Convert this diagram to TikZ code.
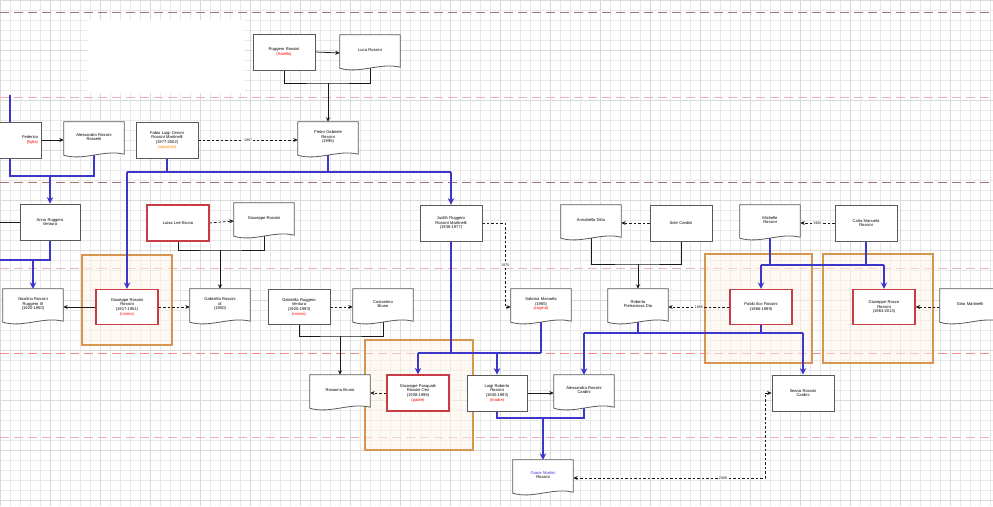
\documentclass[tikz,border=0pt]{standalone}
\usepackage{fontspec}
\setmainfont{Liberation Sans}
\usetikzlibrary{arrows.meta,calc}
\pgfdeclarelayer{bg}
\pgfdeclarelayer{lines}
\pgfsetlayers{bg,lines,main}
\definecolor{bl}{RGB}{60,55,200}
\definecolor{framec}{RGB}{215,150,80}
\definecolor{redb}{RGB}{200,60,70}
\definecolor{dashA}{RGB}{165,115,115}
\definecolor{dashB}{RGB}{240,175,180}
\tikzset{
 every node/.style={font=\fontsize{4.1}{4.7}\selectfont, align=center, inner sep=2pt},
 rbox/.style={draw=gray!70!black, fill=white, line width=0.8pt, minimum width=62pt, minimum height=36pt, text width=56pt},
 redbox/.style={rbox, draw=redb, line width=1.2pt},
 docshape/.style={minimum width=60pt, minimum height=36pt},
 doctext/.style={text width=55pt},
 docline/.style={draw=gray!70!black, fill=white, line width=0.8pt},
 thinl/.style={gray!20!black, line width=0.75pt},
 thinarrow/.style={thinl, -{Stealth[length=4.5pt,width=4pt]}},
 dasharrow/.style={thinarrow, dash pattern=on 2.5pt off 2pt},
 blueline/.style={bl, line width=2.8pt},
 bluearrow/.style={blueline, -{Stealth[length=6.5pt,width=6.5pt]}},
 framebox/.style={draw=framec, line width=1.2pt, fill=orange!8, fill opacity=0.5},
 lab/.style={fill=white, inner sep=0.6pt, font=\fontsize{3.6}{4}\selectfont},
 lane/.style={line width=0.9pt, dash pattern=on 9pt off 5pt}
}
\newcommand\docnode[3]{%
 \node[docshape] (#1) at (#2) {};
 \path[docline] (#1.north west) -- (#1.north east) -- ([yshift=4pt]#1.south east)
   .. controls ([xshift=-20pt,yshift=9pt]#1.south east) and ([xshift=20pt,yshift=-3pt]#1.south west) .. ([yshift=3pt]#1.south west) -- cycle;
 \coordinate (#1-b) at ([yshift=3pt]#1.south);
 \node[doctext] (#1-t) at ([yshift=3pt]#1.center) {#3};
}
\begin{document}
\begin{tikzpicture}[x=1pt,y=-1pt]
\useasboundingbox (0,0) rectangle (993,506);
\begin{pgfonlayer}{bg}
 \fill[white] (0,0) rectangle (993,506);
 \foreach \i in {0,10,...,990} \draw[gray!18,line width=0.4pt] (\i,0) -- (\i,506);
 \foreach \j in {0,10,...,500} \draw[gray!18,line width=0.4pt] (0,\j) -- (993,\j);
 \foreach \i in {0,50,...,950} \draw[gray!30,line width=0.5pt] (\i,0) -- (\i,506);
 \foreach \j in {0,50,...,500} \draw[gray!30,line width=0.5pt] (0,\j) -- (993,\j);
 \fill[white] (88,20) rectangle (245,93);
 \draw[lane,dashA] (0,12) -- (993,12);
 \draw[lane,dashB] (0,97) -- (993,97);
 \draw[lane,dashA] (0,182) -- (993,182);
 \draw[lane,dashB] (0,268) -- (993,268);
 \draw[lane,dashB!80!red] (0,353) -- (993,353);
 \draw[lane,dashB] (0,437) -- (993,437);
 \draw[framebox] (82,255) rectangle (172,345);
 \draw[framebox] (705,254) rectangle (812,363);
 \draw[framebox] (823,254) rectangle (933,363);
 \draw[framebox] (365,340) rectangle (473,450);
\end{pgfonlayer}

% row A
\node[rbox] (A1) at (284,52) {Ruggero Rossini\\\textcolor{red}{(fratello)}};
\docnode{A2}{370,53}{Luca Rossini}
% row B
\node[rbox, align=right] (B0) at (10,140) {Federica\\\textcolor{red}{(figlia)}};
\docnode{B1}{94,140}{Alessandro Rossini\\Rossetti}
\node[rbox] (B2) at (167,140) {Fabio Luigi Ceroni\\Rossini Martinelli\\(1977-2002)\\\textcolor{orange}{(separato)}};
\docnode{B3}{328,140}{Pietro Gabriele\\Rossini\\(1995)}
% row C
\node[rbox, minimum width=60pt] (C1) at (50,222) {Anna Ruggero\\Ventura};
\node[redbox] (C2) at (178,223) {Luisa Lee Bruno};
\docnode{C3}{264,221}{Giuseppe Rossini}
\node[rbox] (C4) at (451,223) {Judith Ruggero\\Rossini Martinelli\\(1938-1977)};
\docnode{C5}{591,223}{Annabella Ditta}
\node[rbox] (C6) at (681,223) {Sole Cardini};
\docnode{C7}{770,223}{Michelle\\Rossini}
\node[rbox] (C8) at (866,223) {Carla Manuela\\Rossini};
% row D
\docnode{D1}{33,307}{Nicolino Rossini\\Ruggero III\\(1920-1950)}
\node[redbox, minimum height=35pt] (D2) at (127,307) {Giuseppe Rossini\\Rossini\\(1917-1951)\\\textcolor{red}{(nonno)}};
\docnode{D3}{220,307}{Gabriella Rossini\\di\\(1950)}
\node[rbox, minimum height=35pt] (D4) at (299,307) {Gabriella Ruggero\\Ventura\\(1920-1993)\\\textcolor{red}{(nonna)}};
\docnode{D5}{383,307}{Costantino\\Bruno}
\docnode{D6}{541,307}{Sabrina Manuela\\(1965)\\\textcolor{red}{(cugina)}}
\docnode{D7}{638,307}{Roberto\\Pietrarossa Dio}
\node[redbox, minimum height=35pt] (D8) at (761,307) {Pablo Ilco Rossini\\(1966-1989)};
\node[redbox, minimum height=35pt] (D9) at (884,307) {Giuseppe Rocco\\Rossini\\(1963-2013)};
\docnode{D10}{970,307}{Gino Martinelli}
% row E
\docnode{E1}{340,393}{Rosanna Bruno}
\node[redbox] (E2) at (418,393) {Giuseppe Pasquale\\Rossini Orsi\\(1938-1996)\\\textcolor{red}{(padre)}};
\node[rbox, minimum width=60pt] (E3) at (497,393) {Luigi Roberto\\Rossini\\(1940-1993)\\\textcolor{red}{(madre)}};
\docnode{E4}{584,393}{Alessandra Rossini\\Cardini}
\node[rbox] (E6) at (803,393) {Ileana Rossini\\Cardini};
% row F
\docnode{F1}{543,478}{\textcolor{bl}{Grace Martini}\\Rossini}

\begin{pgfonlayer}{lines}
% top
\draw[thinarrow] (A1.east) -- (A2.west);
\coordinate (jA) at (328,83);
\draw[thinl] (A1.south) |- (jA) -| (A2-b);
\draw[thinarrow] (jA) -- (B3.north);
\draw[dasharrow] (B2.east) -- node[lab]{1997} (B3.west);
\draw[thinarrow] (B0.east) -- (B1.west);
% blue top
\coordinate (jB1) at (127,172);
\coordinate (jB2) at (451,172);
\draw[blueline] (jB1) -- (jB2);
\draw[blueline] (B2.south) -- (B2.south |- jB1);
\draw[blueline] (B3-b) -- (B3-b |- jB1);
\draw[bluearrow] (jB1) -- (D2.north);
\draw[bluearrow] (jB2) -- (C4.north);
% left
\coordinate (topL) at (10,95);
\draw[blueline] (topL) -- (B0.north);
\coordinate (jL) at (50,176);
\draw[blueline] (B0.south) |- (jL) -| (B1-b);
\draw[bluearrow] (jL) -- (C1.north);
\coordinate (leftC) at (0,222);
\draw[thinl] (leftC) -- (C1.west);
\coordinate (jC1) at (33,260);
\coordinate (leftD) at (0,260);
\draw[blueline] (C1.south) |- (leftD);
\draw[bluearrow] (jC1) -- (D1.north);
% row C links
\draw[dasharrow] (C2.east) -- (C3.west);
\coordinate (jC2) at (220,250);
\draw[thinl] (C2.south) |- (jC2) -| (C3-b);
\draw[thinarrow] (jC2) -- (D3.north);
\coordinate (jC4) at (505,223);
\draw[dasharrow] (C4.east) -- (jC4) |- node[lab,pos=0.25]{1975} (D6.west);
\draw[dasharrow] (C6.west) -- (C5.east);
\coordinate (jC5) at (638,264);
\draw[thinl] (C5-b) |- (jC5) -| (C6.south);
\draw[thinarrow] (jC5) -- (D7.north);
\draw[dasharrow] (C8.west) -- node[lab]{1980} (C7.east);
\coordinate (jC7a) at (761,265);
\coordinate (jC7b) at (884,265);
\draw[blueline] (jC7a) -- (jC7b);
\draw[blueline] (C7-b) -- (C7-b |- jC7a);
\draw[blueline] (C8.south) -- (C8.south |- jC7a);
\draw[bluearrow] (jC7a) -- (D8.north);
\draw[bluearrow] (jC7b) -- (D9.north);
% row D links
\draw[thinarrow] (D2.west) -- (D1.east);
\draw[dasharrow] (D2.east) -- (D3.west);
\draw[dasharrow] (D4.east) -- (D5.west);
\coordinate (jD4) at (340,336);
\draw[thinl] (D4.south) |- (jD4) -| (D5-b);
\draw[thinarrow] (jD4) -- (E1.north);
\draw[dasharrow] (D8.west) -- node[lab]{1985} (D7.east);
\draw[dasharrow] (D10.west) -- (D9.east);
\coordinate (jD7a) at (584,333);
\coordinate (jD7b) at (803,333);
\draw[blueline] (jD7a) -- (jD7b);
\draw[blueline] (D7-b) -- (D7-b |- jD7a);
\draw[blueline] (D8.south) -- (D8.south |- jD7a);
\draw[bluearrow] (jD7a) -- (E4.north);
\draw[bluearrow] (jD7b) -- (E6.north);
\coordinate (jE2) at (418,353);
\coordinate (jE3) at (497,353);
\coordinate (jE4) at (541,353);
\draw[blueline] (jE2) -- (jE4);
\draw[blueline] (C4.south) -- (C4.south |- jE2);
\draw[blueline] (D6-b) -- (jE4);
\draw[bluearrow] (jE2) -- (E2.north);
\draw[bluearrow] (jE3) -- (E3.north);
% row E links
\draw[thinarrow] (E3.east) -- (E4.west);
\draw[dasharrow] (E2.west) -- (E1.east);
\coordinate (jF) at (543,418);
\draw[blueline] (E3.south) |- (jF) -| (E4-b);
\draw[bluearrow] (jF) -- (F1.north);
\coordinate (jG) at (765,478);
\draw[thinl, dash pattern=on 2.5pt off 2pt, {Stealth[length=4.5pt,width=4pt]}-{Stealth[length=4.5pt,width=4pt]}] (F1.east) -- node[lab,pos=0.78]{2009} (jG) |- (E6.west);
\end{pgfonlayer}
\end{tikzpicture}
\end{document}
